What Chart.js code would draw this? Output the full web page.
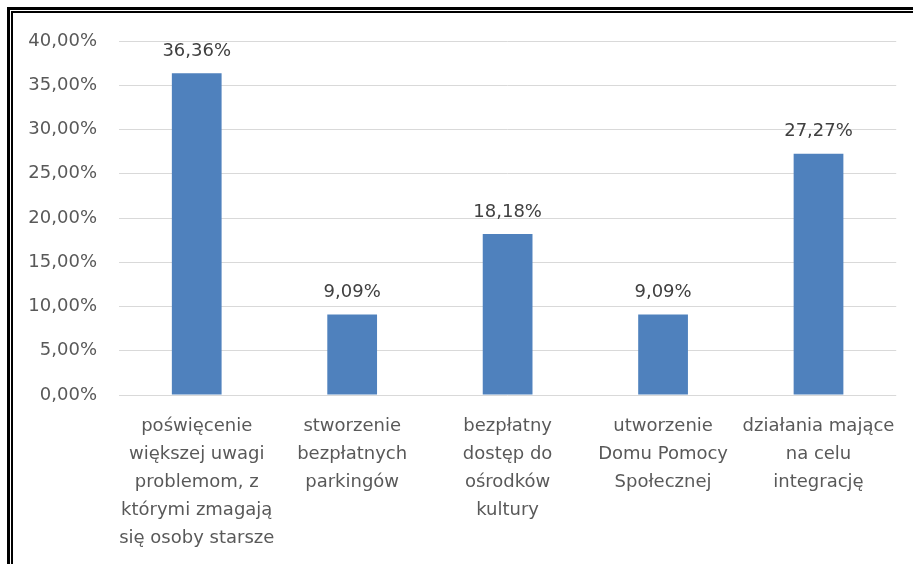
<!DOCTYPE html>
<html>
<head>
<meta charset="utf-8">
<script src="https://cdn.jsdelivr.net/npm/chart.js@4"></script>
<style>
  html, body { margin: 0; padding: 0; background: #fff; overflow: hidden; }
  body { width: 913px; height: 564px; position: relative; }
  .frame-outer { position: absolute; left: 7px; top: 7px; width: 1000px; height: 1000px; border-left: 3px solid #000; border-top: 3px solid #000; }
  .frame-inner { position: absolute; left: 11px; top: 11px; width: 1000px; height: 1000px; border-left: 2px solid #000; border-top: 2px solid #000; }
  #chart { position: absolute; left: 0; top: 0; }
</style>
</head>
<body>
<div class="frame-outer"></div>
<div class="frame-inner"></div>
<canvas id="chart" width="913" height="564"></canvas>
<script>
const categories = [
  ['poświęcenie', 'większej uwagi', 'problemom, z', 'którymi zmagają', 'się osoby starsze'],
  ['stworzenie', 'bezpłatnych', 'parkingów'],
  ['bezpłatny', 'dostęp do', 'ośrodków', 'kultury'],
  ['utworzenie', 'Domu Pomocy', 'Społecznej'],
  ['działania mające', 'na celu', 'integrację']
];
const values = [36.36, 9.09, 18.18, 9.09, 27.27];
const yTicks = [0, 5, 10, 15, 20, 25, 30, 35, 40];

const fmt = (n, d) => n.toFixed(d).replace('.', ',') + '%';

const FONT = '"DejaVu Sans", sans-serif';

// draw value labels above bars
const valueLabels = {
  id: 'valueLabels',
  afterDatasetsDraw(chart) {
    const ctx = chart.ctx;
    const meta = chart.getDatasetMeta(0);
    ctx.save();
    ctx.font = '18px ' + FONT;
    ctx.fillStyle = '#404040';
    ctx.textAlign = 'center';
    ctx.textBaseline = 'middle';
    meta.data.forEach((bar, i) => {
      ctx.fillText(fmt(values[i], 2), bar.x, bar.y - 22);
    });
    ctx.restore();
  }
};

const ctx = document.getElementById('chart').getContext('2d');
new Chart(ctx, {
  type: 'bar',
  data: {
    labels: categories,
    datasets: [{
      data: values,
      backgroundColor: '#4f81bd',
      borderWidth: 0,
      categoryPercentage: 1,
      barPercentage: 0.32
    }]
  },
  options: {
    responsive: false,
    animation: false,
    layout: { padding: { top: 41, right: 16, bottom: 0, left: 0 } },
    plugins: { legend: { display: false }, tooltip: { enabled: false } },
    scales: {
      x: {
        grid: { display: false, drawTicks: false },
        border: { display: false },
        ticks: {
          color: '#595959',
          font: { family: FONT, size: 18, lineHeight: 1.556 },
          padding: 17,
          maxRotation: 0,
          autoSkip: false
        },
        afterFit(axis) { axis.height = 169; }
      },
      y: {
        min: 0,
        max: 40,
        afterBuildTicks(axis) { axis.ticks = yTicks.map(v => ({ value: v })); },
        grid: { color: '#d9d9d9', drawTicks: false },
        border: { display: false },
        ticks: {
          color: '#595959',
          font: { family: FONT, size: 18 },
          padding: 22,
          callback: v => fmt(v, 2)
        },
        afterFit(axis) { axis.width = 119; }
      }
    }
  },
  plugins: [valueLabels]
});
</script>
</body>
</html>
